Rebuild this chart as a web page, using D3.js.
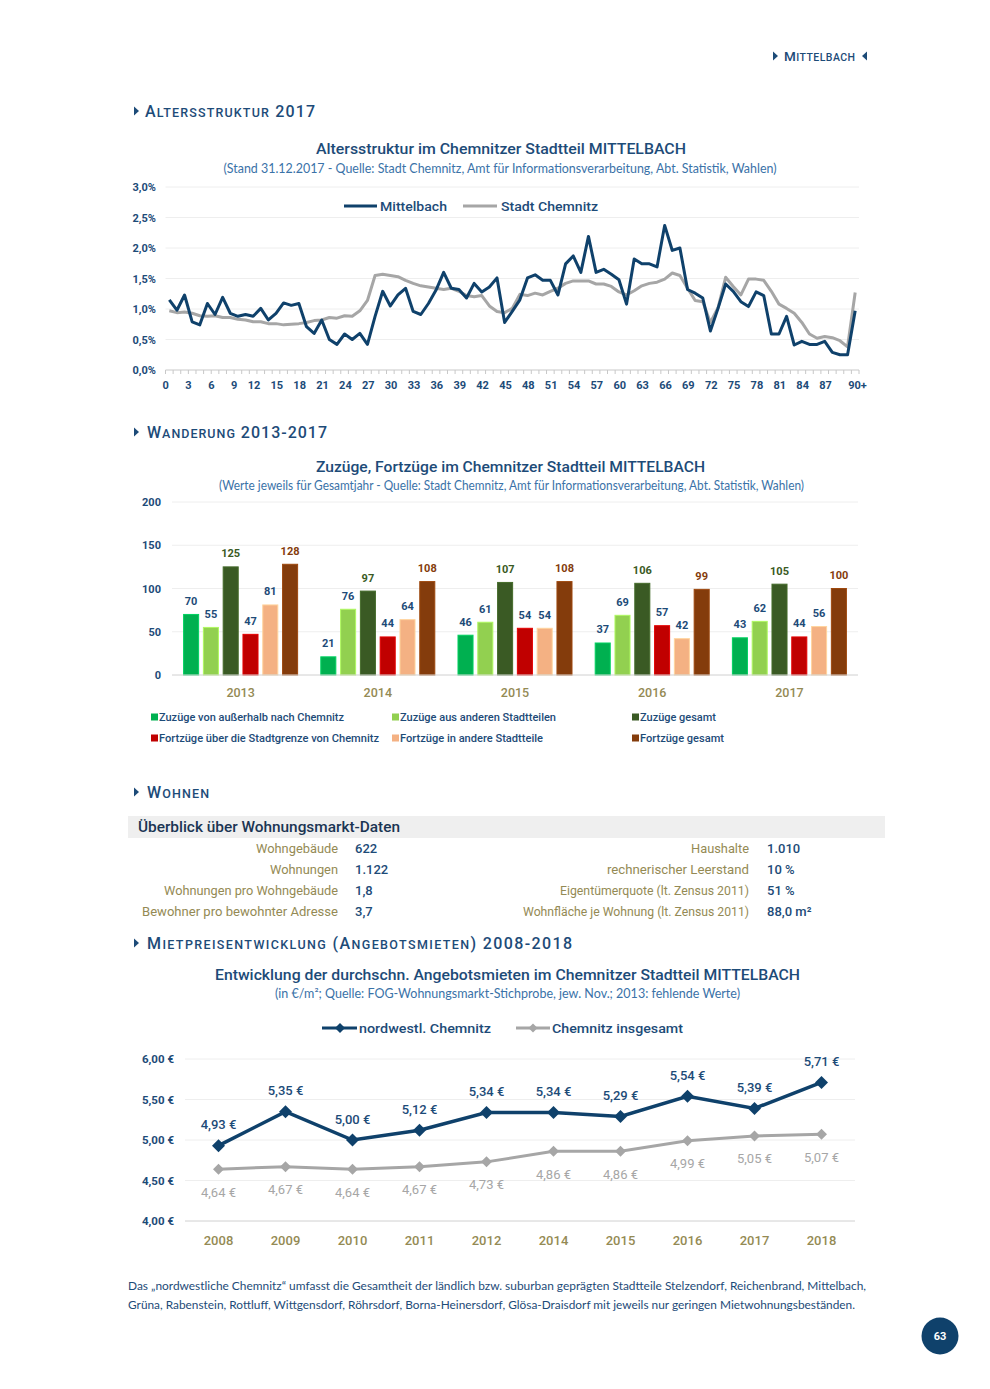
<!DOCTYPE html>
<html><head><meta charset="utf-8">
<script src="https://cdn.jsdelivr.net/npm/d3@7"></script>
<style>body{margin:0;background:#fff} svg{display:block}</style>
</head><body>
<svg id="page" width="990" height="1389"></svg>
<script>
// ---------------- DATA ----------------
const ageCategories = d3.range(0, 91).map(a => a === 90 ? "90+" : String(a));
const ageTickLabels = ["0","3","6","9","12","15","18","21","24","27","30","33","36","39","42","45","48","51","54","57","60","63","66","69","72","75","78","81","84","87","90+"];
const ageYTicks = [0, 0.5, 1, 1.5, 2, 2.5, 3];
const mittelbach = [1.15,0.98,1.23,0.79,0.74,1.09,0.91,1.19,0.93,0.88,0.91,0.88,1.01,0.82,0.93,1.10,1.06,1.09,0.71,0.60,
  0.82,0.50,0.42,0.59,0.50,0.60,0.42,0.88,1.29,1.05,1.23,1.34,0.96,0.91,1.09,1.31,1.60,1.34,1.32,1.18,
  1.42,1.28,1.36,1.51,0.78,0.96,1.15,1.51,1.56,1.47,1.47,1.23,1.74,1.87,1.60,2.19,1.60,1.65,1.57,1.48,
  1.08,1.82,1.74,1.74,1.69,2.37,1.96,2.00,1.32,1.26,1.18,0.64,1.01,1.41,1.29,1.12,1.04,1.28,1.22,0.59,
  0.59,0.88,0.41,0.47,0.42,0.42,0.47,0.29,0.25,0.25,0.97];
const stadtChemnitz = [0.97,0.94,0.95,0.93,0.89,0.88,0.89,0.86,0.86,0.83,0.82,0.79,0.79,0.76,0.76,0.74,0.75,0.76,0.78,0.81,
  0.82,0.86,0.85,0.89,0.88,0.97,1.14,1.55,1.57,1.55,1.53,1.47,1.42,1.38,1.36,1.34,1.32,1.34,1.29,1.22,
  1.20,1.22,1.05,0.96,0.94,1.01,1.24,1.22,1.26,1.23,1.29,1.34,1.42,1.46,1.46,1.46,1.41,1.41,1.37,1.28,
  1.23,1.30,1.38,1.42,1.44,1.49,1.59,1.55,1.34,1.14,1.12,0.78,1.02,1.52,1.37,1.23,1.49,1.49,1.47,1.29,
  1.08,1.01,0.93,0.78,0.59,0.52,0.55,0.53,0.48,0.38,1.27];

const migYears = ["2013","2014","2015","2016","2017"];
const migYTicks = [0, 50, 100, 150, 200];
const zuzuegeAussen = [70, 21, 46, 37, 43];
const zuzuegeStadtteile = [55, 76, 61, 69, 62];
const zuzuegeGesamt = [125, 97, 107, 106, 105];
const fortzuegeGrenze = [47, 44, 54, 57, 44];
const fortzuegeStadtteile = [81, 64, 54, 42, 56];
const fortzuegeGesamt = [128, 108, 108, 99, 100];
const migSeriesNames = ["Zuzüge von außerhalb nach Chemnitz","Zuzüge aus anderen Stadtteilen","Zuzüge gesamt",
  "Fortzüge über die Stadtgrenze von Chemnitz","Fortzüge in andere Stadtteile","Fortzüge gesamt"];

const tableLeftLabels = ["Wohngebäude","Wohnungen","Wohnungen pro Wohngebäude","Bewohner pro bewohnter Adresse"];
const tableLeftValues = ["622","1.122","1,8","3,7"];
const tableRightLabels = ["Haushalte","rechnerischer Leerstand","Eigentümerquote (lt. Zensus 2011)","Wohnfläche je Wohnung (lt. Zensus 2011)"];
const tableRightValues = ["1.010","10 %","51 %","88,0 m²"];

const rentYears = ["2008","2009","2010","2011","2012","2014","2015","2016","2017","2018"];
const rentYTicks = [4, 4.5, 5, 5.5, 6];
const rentNordwest = [4.93, 5.35, 5.00, 5.12, 5.34, 5.34, 5.29, 5.54, 5.39, 5.71];
const rentChemnitz = [4.64, 4.67, 4.64, 4.67, 4.73, 4.86, 4.86, 4.99, 5.05, 5.07];

// ---------------- STYLE ----------------
const BLUE = "#1d4b78", NAVY = "#0f416b", GRAY = "#a6a6a6", OLIVE = "#948a54", SUB = "#3a72a8";
const F = "Roboto", FS = "Lato";
const locale = d3.formatLocale({decimal: ",", thousands: ".", grouping: [3], currency: ["", " €"]});
const fmt1 = locale.format(".1f"), fmt2 = locale.format(".2f");

const svg = d3.select("#page");
svg.append("rect").attr("width", 990).attr("height", 1389).attr("fill", "#fff");

function T(p, x, y, s, o = {}) {
  const t = p.append("text").attr("x", x).attr("y", y).text(s)
    .attr("font-family", o.family || F).attr("font-size", o.size || 12)
    .attr("font-weight", o.weight || 400).attr("fill", o.fill || BLUE)
    .attr("text-anchor", o.anchor || "start")
    .attr("dominant-baseline", o.base || "central");
  if (o.len) t.attr("textLength", o.len).attr("lengthAdjust", "spacingAndGlyphs");
  return t;
}
function triR(p, x, cy) { p.append("path").attr("d", `M${x},${cy-4.5}L${x+5},${cy}L${x},${cy+4.5}Z`).attr("fill", BLUE); }
function triL(p, x, cy) { p.append("path").attr("d", `M${x+5},${cy-4.5}L${x},${cy}L${x+5},${cy+4.5}Z`).attr("fill", BLUE); }
function smallCaps(p, x, base, segs, big, small, len) {
  const t = p.append("text").attr("x", x).attr("y", base).attr("font-family", F)
    .attr("font-weight", 500).attr("fill", BLUE).attr("letter-spacing", 2);
  segs.forEach(([s, b]) => t.append("tspan").attr("font-size", b ? big : small).text(s));
  if (len) t.attr("textLength", len).attr("lengthAdjust", "spacing");
  return t;
}

// ---------------- HEADERS ----------------
triR(svg, 773, 56);
smallCaps(svg, 784, 61, [["M",1],["ITTELBACH",0]], 13.5, 10.5, 73);
triL(svg, 862, 56);

triR(svg, 134, 111);
smallCaps(svg, 145, 117, [["A",1],["LTERSSTRUKTUR",0],[" 2017",1]], 16, 12.5, 172);
triR(svg, 134, 432);
smallCaps(svg, 147, 438, [["W",1],["ANDERUNG",0],[" 2013-2017",1]], 16, 12.5, 182);
triR(svg, 134, 792);
smallCaps(svg, 147, 798, [["W",1],["OHNEN",0]], 16, 12.5, 64);
triR(svg, 134, 943);
smallCaps(svg, 147, 949, [["M",1],["IETPREISENTWICKLUNG",0],[" (A",1],["NGEBOTSMIETEN",0],[") 2008-2018",1]], 16, 12.5, 427);

// ---------------- CHART 1: Altersstruktur ----------------
const g1 = svg.append("g");
T(g1, 501, 149, "Altersstruktur im Chemnitzer Stadtteil MITTELBACH", {size: 15.5, weight: 500, anchor: "middle", len: 370});
T(g1, 500, 168, "(Stand 31.12.2017 - Quelle: Stadt Chemnitz, Amt für Informationsverarbeitung, Abt. Statistik, Wahlen)", {family: FS, size: 12.5, fill: SUB, anchor: "middle", len: 553});

const ax = d3.scaleBand().domain(ageCategories).range([165.5, 859]);
const ay = d3.scaleLinear().domain([0, 3]).range([370, 187]);
const acx = c => ax(c) + ax.bandwidth() / 2;

g1.append("g").selectAll("line").data(ageYTicks.filter(t => t > 0)).join("line")
  .attr("x1", 165.5).attr("x2", 859).attr("y1", d => ay(d)).attr("y2", d => ay(d))
  .attr("stroke", "#eeeeee").attr("stroke-width", 1);
const yAx1 = g1.append("g").attr("transform", "translate(156,0)")
  .call(d3.axisLeft(ay).tickValues(ageYTicks).tickSize(0).tickPadding(0).tickFormat(t => fmt1(t) + "%"));
yAx1.select(".domain").remove();
yAx1.selectAll("text").attr("font-family", F).attr("font-size", 11).attr("font-weight", 700).attr("fill", BLUE);

g1.append("line").attr("x1", 165.5).attr("x2", 859).attr("y1", 370).attr("y2", 370).attr("stroke", "#c8c8c8");
g1.append("g").selectAll("line").data(ageCategories).join("line")
  .attr("x1", d => ax(d)).attr("x2", d => ax(d)).attr("y1", 370).attr("y2", 374).attr("stroke", "#c8c8c8");
g1.append("line").attr("x1", 859).attr("x2", 859).attr("y1", 370).attr("y2", 374).attr("stroke", "#c8c8c8");
ageTickLabels.forEach(l => {
  if (l === "90+") T(g1, acx(l) - 7, 385, l, {size: 11, weight: 700, anchor: "start"});
  else T(g1, acx(l) - 0.5, 385, l, {size: 11, weight: 700, anchor: "end"});
});

const line1 = d3.line().x((d, i) => acx(ageCategories[i])).y(d => ay(d));
g1.append("path").attr("d", line1(stadtChemnitz)).attr("fill", "none").attr("stroke", GRAY).attr("stroke-width", 3).attr("stroke-linejoin", "round");
g1.append("path").attr("d", line1(mittelbach)).attr("fill", "none").attr("stroke", NAVY).attr("stroke-width", 3).attr("stroke-linejoin", "round");

g1.append("line").attr("x1", 344).attr("x2", 377).attr("y1", 206).attr("y2", 206).attr("stroke", NAVY).attr("stroke-width", 3);
T(g1, 380, 206, "Mittelbach", {size: 13.5, weight: 500, len: 67});
g1.append("line").attr("x1", 463).attr("x2", 497).attr("y1", 206).attr("y2", 206).attr("stroke", GRAY).attr("stroke-width", 3);
T(g1, 501, 206, "Stadt Chemnitz", {size: 13.5, weight: 500, len: 97});

// ---------------- CHART 2: Wanderung ----------------
const g2 = svg.append("g");
T(g2, 510.5, 467, "Zuzüge, Fortzüge im Chemnitzer Stadtteil MITTELBACH", {size: 15.5, weight: 500, anchor: "middle", len: 389});
T(g2, 511.5, 485, "(Werte jeweils für Gesamtjahr - Quelle: Stadt Chemnitz, Amt für Informationsverarbeitung, Abt. Statistik, Wahlen)", {family: FS, size: 12.5, fill: SUB, anchor: "middle", len: 585});

const migSeries = [zuzuegeAussen, zuzuegeStadtteile, zuzuegeGesamt, fortzuegeGrenze, fortzuegeStadtteile, fortzuegeGesamt];
const migColors = ["#00b050", "#92d050", "#3a5a24", "#c00000", "#f4b183", "#843c0c"];
const migLabelColors = [BLUE, BLUE, "#3a5a24", BLUE, BLUE, "#843c0c"];
const bx0 = d3.scaleBand().domain(migYears).range([172, 858]).paddingInner(0.169).paddingOuter(0.0845);
const bx1 = d3.scaleBand().domain(d3.range(6)).range([0, bx0.bandwidth()]).paddingInner(0.24).paddingOuter(0);
const by = d3.scaleLinear().domain([0, 200]).range([675, 502]);

g2.append("g").selectAll("line").data(migYTicks.filter(t => t > 0)).join("line")
  .attr("x1", 172).attr("x2", 858).attr("y1", d => by(d)).attr("y2", d => by(d)).attr("stroke", "#eeeeee");
const yAx2 = g2.append("g").attr("transform", "translate(161,0)")
  .call(d3.axisLeft(by).tickValues(migYTicks).tickSize(0).tickPadding(0));
yAx2.select(".domain").remove();
yAx2.selectAll("text").attr("font-family", F).attr("font-size", 11).attr("font-weight", 700).attr("fill", BLUE);

const grp = g2.append("g").selectAll("g").data(migYears).join("g").attr("transform", d => `translate(${bx0(d)},0)`);
grp.each(function (yr, yi) {
  const gg = d3.select(this);
  migSeries.forEach((s, si) => {
    const v = s[yi];
    gg.append("rect").attr("x", bx1(si)).attr("width", bx1.bandwidth())
      .attr("y", by(v)).attr("height", by(0) - by(v))
      .attr("fill", migColors[si]).attr("stroke", d3.color(migColors[si]).brighter(0.5)).attr("stroke-width", 1);
    T(gg, bx1(si) + bx1.bandwidth() / 2, by(v) - 13, String(v), {size: 11, weight: 700, anchor: "middle", fill: migLabelColors[si]});
  });
});
g2.append("line").attr("x1", 172).attr("x2", 858).attr("y1", 675).attr("y2", 675).attr("stroke", "#d0d0d0");
migYears.forEach(yr => T(g2, bx0(yr) + bx0.bandwidth() / 2, 692, yr, {size: 12.5, weight: 500, fill: OLIVE, anchor: "middle"}));

const legPos = [[151, 717, 185], [392, 717, 156], [632, 717, 76], [151, 738, 220], [392, 738, 143], [632, 738, 84]];
migSeriesNames.forEach((n, i) => {
  const [lx, ly, lw] = legPos[i];
  g2.append("rect").attr("x", lx).attr("y", ly - 3.5).attr("width", 7).attr("height", 7).attr("fill", migColors[i]);
  T(g2, lx + 8, ly, n, {size: 11, weight: 500, len: lw});
});

// ---------------- TABLE: Wohnen ----------------
const g3 = svg.append("g");
g3.append("rect").attr("x", 128).attr("y", 816).attr("width", 757).attr("height", 22).attr("fill", "#efefef");
T(g3, 138, 827, "Überblick über Wohnungsmarkt-Daten", {size: 15, weight: 500, fill: "#1b3553", len: 262});
const rowY = [848, 869, 890, 911];
const leftLens = [82, 68, 174, 196], rightLens = [58, 142, 189, 226];
tableLeftLabels.forEach((l, i) => {
  T(g3, 338, rowY[i], l, {size: 13, fill: OLIVE, anchor: "end", len: leftLens[i]});
  T(g3, 355, rowY[i], tableLeftValues[i], {size: 13, weight: 500});
});
tableRightLabels.forEach((l, i) => {
  T(g3, 749, rowY[i], l, {size: 13, fill: OLIVE, anchor: "end", len: rightLens[i]});
  T(g3, 767, rowY[i], tableRightValues[i], {size: 13, weight: 500});
});

// ---------------- CHART 3: Mieten ----------------
const g4 = svg.append("g");
T(g4, 507.5, 975, "Entwicklung der durchschn. Angebotsmieten im Chemnitzer Stadtteil MITTELBACH", {size: 15.5, weight: 500, anchor: "middle", len: 585});
T(g4, 507.5, 993, "(in €/m²; Quelle: FOG-Wohnungsmarkt-Stichprobe, jew. Nov.; 2013: fehlende Werte)", {family: FS, size: 12.5, fill: SUB, anchor: "middle", len: 465});

const rx = d3.scalePoint().domain(rentYears).range([185, 855]).padding(0.5);
const ry = d3.scaleLinear().domain([4, 6]).range([1221, 1059]);
g4.append("g").selectAll("line").data(rentYTicks.filter(t => t > 4)).join("line")
  .attr("x1", 185).attr("x2", 855).attr("y1", d => ry(d)).attr("y2", d => ry(d)).attr("stroke", "#eeeeee");
g4.append("line").attr("x1", 185).attr("x2", 855).attr("y1", 1221).attr("y2", 1221).attr("stroke", "#d0d0d0");
const yAx3 = g4.append("g").attr("transform", "translate(174,0)")
  .call(d3.axisLeft(ry).tickValues(rentYTicks).tickSize(0).tickPadding(0).tickFormat(t => fmt2(t) + " €"));
yAx3.select(".domain").remove();
yAx3.selectAll("text").attr("font-family", F).attr("font-size", 11.5).attr("font-weight", 700).attr("fill", BLUE);
rentYears.forEach(yr => T(g4, rx(yr), 1240, yr, {size: 13, weight: 500, fill: OLIVE, anchor: "middle"}));

const line3 = d3.line().x((d, i) => rx(rentYears[i])).y(d => ry(d));
const diamond = r => `M0,${-r}L${r},0L0,${r}L${-r},0Z`;
g4.append("path").attr("d", line3(rentChemnitz)).attr("fill", "none").attr("stroke", GRAY).attr("stroke-width", 3);
rentChemnitz.forEach((v, i) => {
  g4.append("path").attr("d", diamond(5.5)).attr("transform", `translate(${rx(rentYears[i])},${ry(v)})`).attr("fill", GRAY);
  T(g4, rx(rentYears[i]), ry(v) + 23, fmt2(v) + " €", {size: 13, fill: GRAY, anchor: "middle"});
});
g4.append("path").attr("d", line3(rentNordwest)).attr("fill", "none").attr("stroke", NAVY).attr("stroke-width", 3.5);
rentNordwest.forEach((v, i) => {
  g4.append("path").attr("d", diamond(6.5)).attr("transform", `translate(${rx(rentYears[i])},${ry(v)})`).attr("fill", NAVY);
  T(g4, rx(rentYears[i]), ry(v) - 21, fmt2(v) + " €", {size: 13, weight: 500, anchor: "middle"});
});

g4.append("line").attr("x1", 322).attr("x2", 357).attr("y1", 1028).attr("y2", 1028).attr("stroke", NAVY).attr("stroke-width", 3);
g4.append("path").attr("d", diamond(5)).attr("transform", "translate(340,1028)").attr("fill", NAVY);
T(g4, 359, 1028, "nordwestl. Chemnitz", {size: 13.5, weight: 500, len: 132});
g4.append("line").attr("x1", 516).attr("x2", 550).attr("y1", 1028).attr("y2", 1028).attr("stroke", GRAY).attr("stroke-width", 3);
g4.append("path").attr("d", diamond(4.5)).attr("transform", "translate(533,1028)").attr("fill", GRAY);
T(g4, 552, 1028, "Chemnitz insgesamt", {size: 13.5, weight: 500, len: 131});

// ---------------- FOOTNOTE & PAGE ----------------
T(svg, 128, 1285, "Das „nordwestliche Chemnitz“ umfasst die Gesamtheit der ländlich bzw. suburban geprägten Stadtteile Stelzendorf, Reichenbrand, Mittelbach,", {family: FS, size: 12, fill: BLUE, len: 738});
T(svg, 128, 1304, "Grüna, Rabenstein, Rottluff, Wittgensdorf, Röhrsdorf, Borna-Heinersdorf, Glösa-Draisdorf mit jeweils nur geringen Mietwohnungsbeständen.", {family: FS, size: 12, fill: BLUE, len: 727});
svg.append("circle").attr("cx", 940).attr("cy", 1336).attr("r", 18.5).attr("fill", "#0f416b");
T(svg, 940, 1336, "63", {size: 11, weight: 700, fill: "#fff", anchor: "middle"});
</script>
</body></html>
